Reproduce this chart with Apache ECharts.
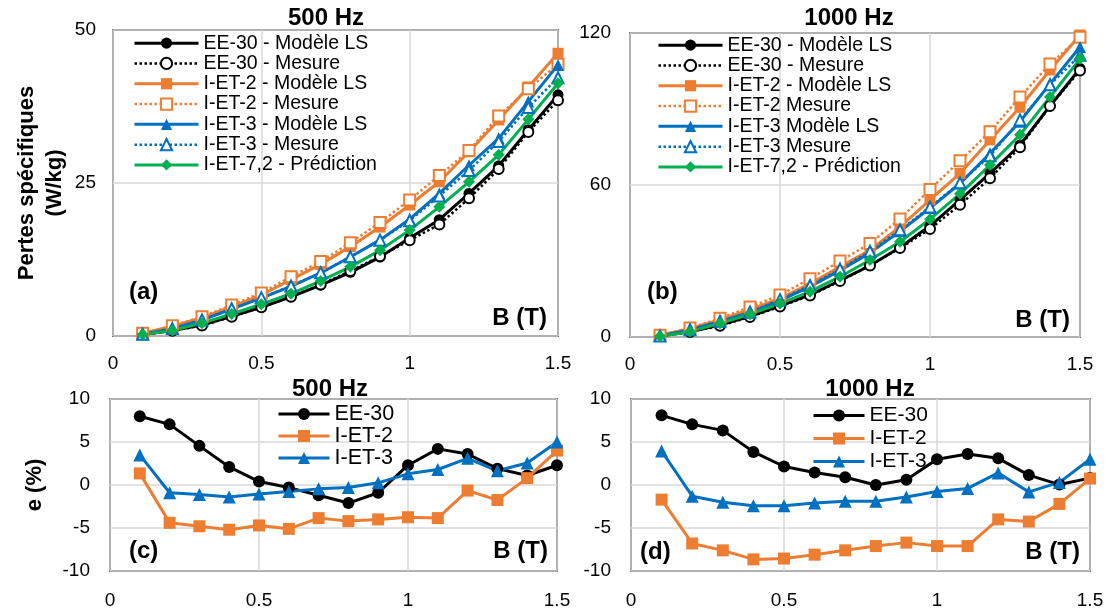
<!DOCTYPE html>
<html><head><meta charset="utf-8">
<script src="https://cdn.jsdelivr.net/npm/echarts@6/dist/echarts.min.js"></script>
<style>html,body{margin:0;padding:0;background:#fff}#c{width:1110px;height:610px}</style>
</head><body><div id="c"></div>
<script>
// ---- data ----
const B = [0.1,0.2,0.3,0.4,0.5,0.6,0.7,0.8,0.9,1.0,1.1,1.2,1.3,1.4,1.5];
const xTicks = ['0','0.5','1','1.5'];

// 500 Hz losses (W/kg)
const ee30Model500   = [0.25,0.9,1.8,3.2,4.7,6.4,8.3,10.4,12.9,16.0,19.0,23.3,27.8,33.7,39.4];
const ee30Mes500     = [0.23,0.84,1.72,3.13,4.68,6.42,8.4,10.62,13.02,15.64,18.23,22.49,27.28,33.33,38.51];
const iet2Model500   = [0.44,1.6,3.0,4.8,6.7,9.2,11.7,14.6,17.8,21.4,25.2,30.1,35.3,40.7,46.2];
const iet2Mes500     = [0.43,1.67,3.15,5.06,7.03,9.69,12.17,15.24,18.54,22.23,26.21,30.3,35.93,40.38,44.42];
const iet3Model500   = [0.3,1.2,2.6,4.4,6.2,8.1,10.3,12.9,15.7,19.1,23.3,27.9,32.3,38.3,44.3];
const iet3Mes500     = [0.29,1.21,2.63,4.46,6.27,8.16,10.35,12.94,15.66,18.85,22.89,27.06,31.78,37.35,42.19];
const iet72Pred500   = [0.25,0.9,2.1,3.6,5.2,6.9,9.0,11.3,14.0,17.3,21.1,25.2,29.6,35.4,41.3];

// 1000 Hz losses (W/kg)
const ee30Model1000  = [0.4,2.1,4.7,8.2,12.3,16.6,22.3,28.2,35.3,43.9,54.1,64.6,75.8,91.2,106.0];
const ee30Mes1000    = [0.37,1.96,4.42,7.9,12.04,16.36,22.1,28.2,35.09,42.62,52.22,62.66,74.94,91.15,105.16];
const iet2Model1000  = [0.7,3.3,6.8,10.8,15.2,21.1,27.7,34.3,43.5,54.1,64.6,77.8,90.7,105.4,119.2];
const iet2Mes1000    = [0.71,3.54,7.36,11.82,16.62,22.96,29.98,36.92,46.62,58.23,69.54,81.04,94.73,107.77,118.31];
const iet3Model1000  = [0.4,2.8,6.1,9.6,14.4,19.9,26.3,33.2,41.7,50.9,60.6,72.5,85.0,99.9,114.5];
const iet3Mes1000    = [0.38,2.84,6.22,9.84,14.75,20.33,26.81,33.84,42.29,51.28,60.84,71.5,85.69,99.6,111.17];
const iet72Pred1000  = [0.3,2.1,5.4,9.0,13.2,17.9,23.8,30.4,37.6,46.5,56.5,67.9,79.8,94.7,109.8];

// relative error e (%)
const eEE30_500  = [8.0,7.05,4.55,2.1,0.4,-0.3,-1.2,-2.1,-0.9,2.3,4.2,3.6,1.9,1.1,2.3];
const eIET2_500  = [1.35,-4.4,-4.8,-5.2,-4.7,-5.1,-3.85,-4.2,-4.0,-3.75,-3.85,-0.65,-1.75,0.8,4.0];
const eIET3_500  = [3.5,-0.9,-1.1,-1.4,-1.05,-0.75,-0.45,-0.3,0.25,1.3,1.8,3.1,1.65,2.55,5.0];
const eEE30_1000 = [8.1,7.05,6.35,3.85,2.15,1.45,0.9,0.0,0.6,3.0,3.6,3.1,1.15,0.05,0.8];
const eIET2_1000 = [-1.7,-6.8,-7.6,-8.65,-8.55,-8.1,-7.6,-7.1,-6.7,-7.1,-7.1,-4.0,-4.25,-2.2,0.75];
const eIET3_1000 = [3.95,-1.3,-2.0,-2.4,-2.4,-2.1,-1.9,-1.9,-1.4,-0.75,-0.4,1.4,-0.8,0.3,3.0];

const namesTopL = ['EE-30 - Modèle LS','EE-30 - Mesure','I-ET-2 - Modèle LS','I-ET-2 - Mesure','I-ET-3 - Modèle LS','I-ET-3 - Mesure','I-ET-7,2 - Prédiction'];
const namesTopR = ['EE-30 - Modèle LS','EE-30 - Mesure','I-ET-2 - Modèle LS','I-ET-2 Mesure','I-ET-3 Modèle LS','I-ET-3 Mesure','I-ET-7,2 - Prédiction'];
const namesBot  = ['EE-30','I-ET-2','I-ET-3'];

// ---- styling ----
const BLACK='#000000', ORANGE='#ED7D31', BLUE='#0070C0', GREEN='#00B050';
const FONT='"Liberation Sans", Arial, sans-serif';
const pairs = v => v.map((y,i)=>[B[i],y]);

const topStyles = [
  {c:BLACK, sym:'circle', size:11, dot:false},
  {c:BLACK, sym:'emptyCircle', size:10, dot:true},
  {c:ORANGE, sym:'rect', size:11, dot:false},
  {c:ORANGE, sym:'emptyRect', size:11, dot:true},
  {c:BLUE, sym:'triangle', size:12, dot:false},
  {c:BLUE, sym:'emptyTriangle', size:11, dot:true},
  {c:GREEN, sym:'diamond', size:12, dot:false}
];
const botStyles = [
  {c:BLACK, sym:'circle', size:12},
  {c:ORANGE, sym:'rect', size:12},
  {c:BLUE, sym:'triangle', size:13}
];

function topSeries(names, arrays, gi){
  return arrays.map((arr,k)=>{
    const s=topStyles[k];
    return {
      type:'line', name:names[k], xAxisIndex:gi, yAxisIndex:gi, data:pairs(arr),
      symbol:s.sym, symbolSize:s.size, clip:false, animation:false,
      lineStyle:{color:s.c, width:s.dot?2.5:3, type:s.dot?'dotted':'solid'},
      itemStyle:{color:s.c, borderColor:s.c, borderWidth:s.dot?1.8:0}
    };
  });
}
function botSeries(arrays, gi){
  return arrays.map((arr,k)=>{
    const s=botStyles[k];
    return {
      type:'line', name:namesBot[k], xAxisIndex:gi, yAxisIndex:gi, data:pairs(arr),
      symbol:s.sym, symbolSize:s.size, clip:false, animation:false,
      lineStyle:{color:s.c, width:3},
      itemStyle:{color:s.c}
    };
  });
}

const grids = [
  {left:113, top:30, width:445, height:306},
  {left:630, top:33, width:450, height:304},
  {left:110, top:399, width:447, height:173},
  {left:631, top:399, width:459, height:173}
].map(g=>Object.assign({show:true, borderColor:'#000', borderWidth:1.5, backgroundColor:'transparent'}, g));

const tickText = v => xTicks[Math.round(v/0.5)];
const xAxes = [0,1,2,3].map(i=>({
  type:'value', gridIndex:i, min:0, max:1.5, interval:0.5,
  axisLine:{show:false}, axisTick:{show:false},
  splitLine:{show:true, lineStyle:{color:'#d9d9d9', width:1.5}},
  axisLabel:{fontFamily:FONT, fontSize:19, color:'#000', margin: i<2?18:20, formatter:tickText}
}));
const yAxes = [
  {gridIndex:0, min:0, max:50, interval:25, name:'Pertes spécifiques\n(W/kg)', nameGap:44, lblMargin:17},
  {gridIndex:1, min:0, max:120, interval:60, lblMargin:19},
  {gridIndex:2, min:-10, max:10, interval:5, name:'e (%)', nameGap:61, lblMargin:20},
  {gridIndex:3, min:-10, max:10, interval:5, lblMargin:20}
].map(a=>{
  const m=a.lblMargin; delete a.lblMargin;
  return Object.assign({
    type:'value', axisLine:{show:false}, axisTick:{show:false},
    splitLine:{show:true, lineStyle:{color:'#d9d9d9', width:1.5}},
    axisLabel:{fontFamily:FONT, fontSize:19, color:'#000', margin:m},
    nameLocation:'middle', nameRotate:90,
    nameTextStyle:{fontFamily:FONT, fontSize:22, fontWeight:'bold', color:'#000', lineHeight:28}
  }, a);
});

function legend(left, top, data, iw, ih, fs, lh){
  return {
    orient:'vertical', left:left, top:top, data:data,
    itemWidth:iw, itemHeight:ih, itemGap:0,
    lineStyle:{width:'inherit', type:'inherit'},
    textStyle:{fontFamily:FONT, fontSize:fs, color:'#000', lineHeight:lh},
    backgroundColor:'transparent', padding:0
  };
}
const legends = [
  legend(133, 33, namesTopL, 64, 14, 19.5, 20.3),
  legend(657, 35, namesTopR, 64, 14, 19.5, 20.3),
  legend(277, 403, namesBot, 51, 15, 21.5, 22),
  legend(812, 404, namesBot, 51, 15, 21, 23)
];

function txt(x,y,t,size,align){
  return {type:'text', x:x, y:y, z:100, silent:true,
    style:{text:t, font:'bold '+size+'px '+FONT, fill:'#000', align:align||'center', verticalAlign:'middle'}};
}
const graphics = [
  txt(326,18,'500 Hz',24), txt(849,18,'1000 Hz',24),
  txt(330,389,'500 Hz',24), txt(870,389,'1000 Hz',24),
  txt(129,292,'(a)',24,'left'), txt(547,318,'B (T)',24,'right'),
  txt(647,292,'(b)',24,'left'), txt(1070,320,'B (T)',24,'right'),
  txt(129,551,'(c)',24,'left'), txt(548,551,'B (T)',24,'right'),
  txt(640,552,'(d)',24,'left'), txt(1080,552,'B (T)',24,'right')
];

const series = [].concat(
  topSeries(namesTopL,[ee30Model500,ee30Mes500,iet2Model500,iet2Mes500,iet3Model500,iet3Mes500,iet72Pred500],0),
  topSeries(namesTopR,[ee30Model1000,ee30Mes1000,iet2Model1000,iet2Mes1000,iet3Model1000,iet3Mes1000,iet72Pred1000],1),
  botSeries([eEE30_500,eIET2_500,eIET3_500],2),
  botSeries([eEE30_1000,eIET2_1000,eIET3_1000],3)
);

const chart = echarts.init(document.getElementById('c'), null, {renderer:'canvas'});
chart.setOption({
  backgroundColor:'#fff', animation:false,
  grid:grids, xAxis:xAxes, yAxis:yAxes, legend:legends, series:series, graphic:graphics
});
</script>
</body></html>
